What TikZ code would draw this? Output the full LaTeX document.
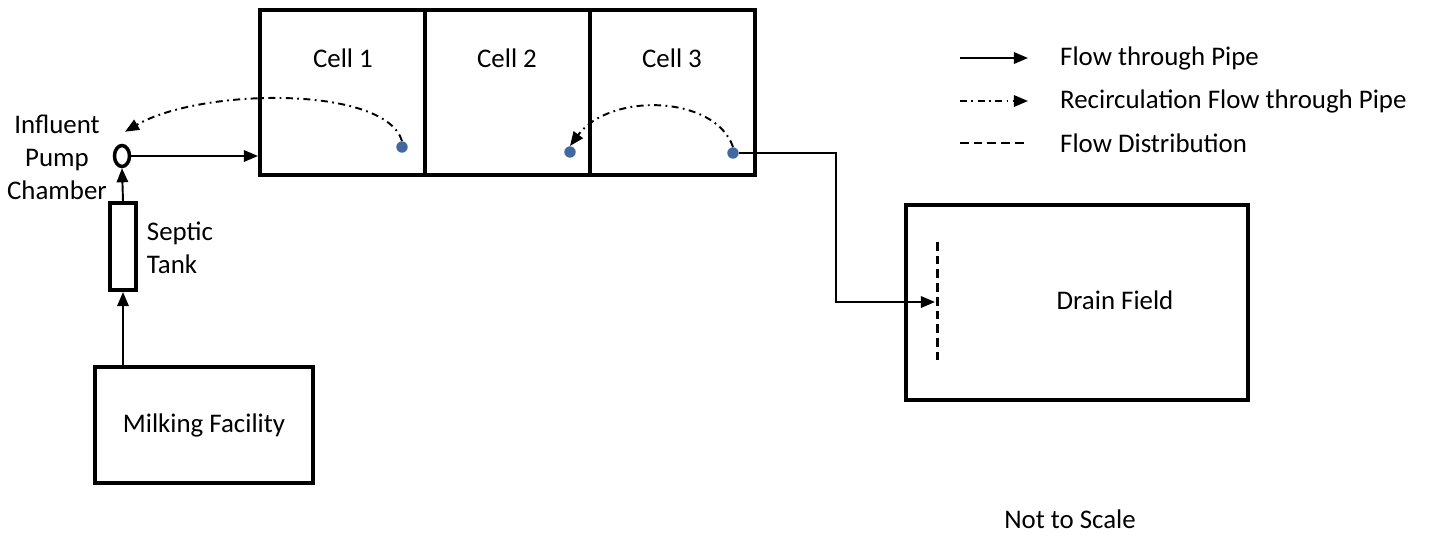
\documentclass[tikz,border=0pt]{standalone}
\usepackage{fontspec}
\setmainfont{Carlito}
\usepackage{tikz}
\usetikzlibrary{arrows.meta, calc, positioning, shapes.geometric}
\definecolor{portblue}{RGB}{65,105,160}
\tikzset{
  box/.style={draw, line width=2.3pt, inner sep=0pt},
  pipe/.style={-{Triangle[length=8pt,width=6.5pt]}, line width=1.1pt},
  recirc/.style={pipe, dash pattern=on 4pt off 2.5pt on 1pt off 2.5pt},
  distrib/.style={line width=1.7pt, dash pattern=on 5pt off 2.8pt},
  port/.style={circle, fill=portblue, inner sep=0pt, minimum size=6.5pt},
}

\begin{document}
\begin{tikzpicture}[x=0.02cm, y=-0.02cm, font=\fontsize{15.3}{18.7}\selectfont]
    \useasboundingbox (0,0) rectangle (1431,535);
    % treatment cells
    \node[box, minimum width=3.3cm, minimum height=3.3cm] (cell1) at (342.5,92.5) {};
    \node[box, minimum width=3.3cm, minimum height=3.3cm] (cell2) at (507.5,92.5) {};
    \node[box, minimum width=3.3cm, minimum height=3.3cm] (cell3) at (672.5,92.5) {};
    \node (lab1) at (343,58) {Cell 1};
    \node (lab2) at (507,58) {Cell 2};
    \node (lab3) at (672,58) {Cell 3};
    \node[port] (d1) at (402,147) {};
    \node[port] (d2) at (570,152) {};
    \node[port] (d3) at (733,153) {};
    % pump chamber, septic tank, milking
    \node[ellipse, draw, line width=2pt, minimum width=0.3cm, minimum height=0.42cm, inner sep=0pt] (pump) at (122,156) {};
    \node[align=center] (pumplab) at (57,157) {Influent\\Pump\\Chamber};
    \node[box, minimum width=0.52cm, minimum height=1.74cm] (tank) at (123,246.5) {};
    \node[align=left] (tanklab) at (180,248) {Septic\\Tank};
    \node[box, minimum width=4.36cm, minimum height=2.32cm] (milk) at (204,425) {Milking Facility};
    % drain field
    \node[box, minimum width=6.84cm, minimum height=3.9cm] (drain) at (1077,302.5) {};
    \node (drainlab) at (1115,300) {Drain Field};
    \coordinate (distTop) at (937,242);
    \coordinate (distBot) at (937,362);
    \coordinate (distMid) at (935,302);
    \coordinate (bend) at (836,302);
    % flows
    \draw[pipe] (tank.south |- milk.north) -- (tank.south);
    \draw[pipe] (tank.north) -- (pump.south);
    \draw[pipe] (pump.east) -- (cell1.west |- pump.east);
    \draw[recirc] (d1.north) .. controls (385,85) and (200,88) .. ($(pump.north)+(3,-12)$);
    \draw[recirc] (d3.north) .. controls (715,95) and (610,92) .. (d2.north);
    \draw[pipe] (d3.east) -| (bend) -- (distMid);
    \draw[distrib] (distTop) -- (distBot);
    % legend
    \coordinate (k1a) at (960,58);  \coordinate (k1b) at (1028,58);
    \coordinate (k2a) at (960,101); \coordinate (k2b) at (1028,101);
    \coordinate (k3a) at (960,143); \coordinate (k3b) at (1028,143);
    \draw[pipe] (k1a) -- (k1b);
    \draw[recirc] (k2a) -- (k2b);
    \draw[distrib] (k3a) -- (k3b);
    \node[anchor=west] (k1) at (1054,58) {Flow through Pipe};
    \node[anchor=west] (k2) at (1054,101) {Recirculation Flow through Pipe};
    \node[anchor=west] (k3) at (1054,143) {Flow Distribution};
    \node (scale) at (1070,519) {Not to Scale};
\end{tikzpicture}
\end{document}
